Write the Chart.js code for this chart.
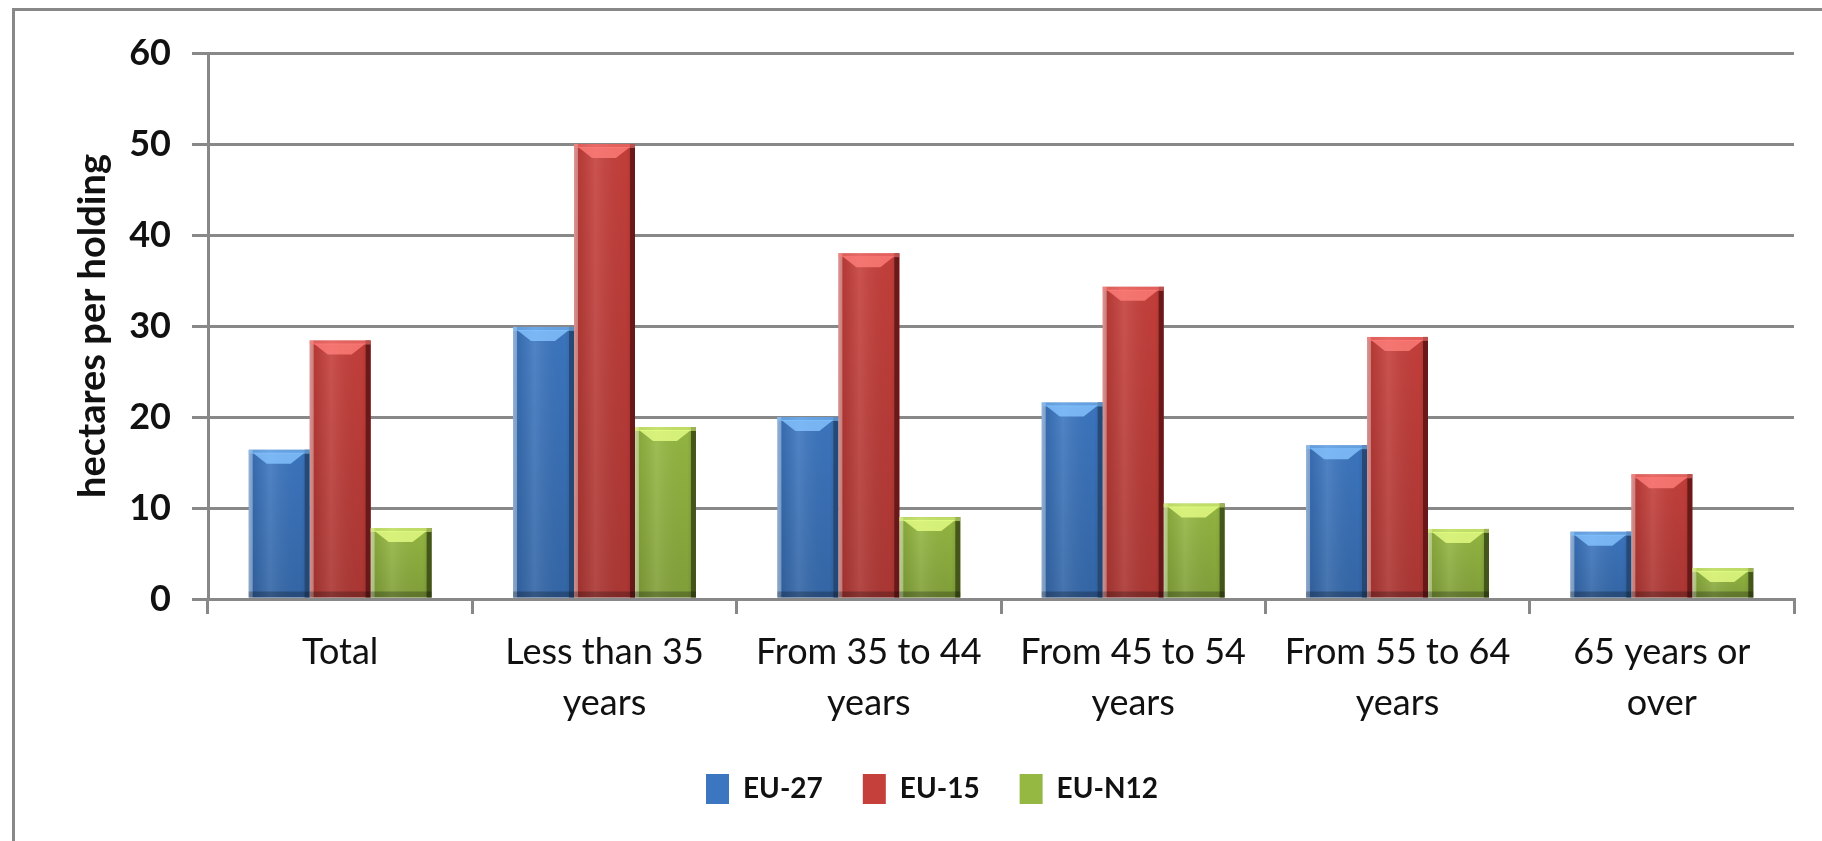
<!DOCTYPE html>
<html>
<head>
<meta charset="utf-8">
<script src="https://cdn.jsdelivr.net/npm/chart.js@4/dist/chart.umd.min.js"></script>
<style>
  html, body { margin: 0; padding: 0; background: #fff; }
  #wrap { position: relative; width: 1822px; height: 841px; overflow: hidden; background: #fff; }
  #frame { position: absolute; left: 12px; top: 8px; width: 1900px; height: 900px; border-left: 3px solid #888; border-top: 3px solid #888; box-sizing: border-box; pointer-events: none; }
  #c { position: absolute; left: 0; top: 0; }
</style>
</head>
<body>
<div id="wrap">
  <canvas id="c" width="1822" height="841"></canvas>
  <div id="frame"></div>
</div>
<script>
const categories = [["Total"], ["Less than 35", "years"], ["From 35 to 44", "years"], ["From 45 to 54", "years"], ["From 55 to 64", "years"], ["65 years or", "over"]];
const seriesNames = ["EU-27", "EU-15", "EU-N12"];
const eu27 = [16.4, 29.9, 20.0, 21.6, 16.9, 7.4];
const eu15 = [28.4, 50.0, 38.0, 34.3, 28.8, 13.7];
const euN12 = [7.8, 18.9, 9.0, 10.5, 7.7, 3.4];
const yTicks = [0, 10, 20, 30, 40, 50, 60];
const axisTitle = "hectares per holding";

const baseColors = ["#3C76C0", "#C53F3B", "#95B842"];
const topColors = ["#86C4FF", "#FF7E7A", "#E6FF86"];
const edgeColors = ["#23446E", "#5E1414", "#3A4A16"];

const bevelPlugin = {
  id: 'bevel',
  afterDatasetsDraw(chart) {
    const ctx = chart.ctx;
    chart.data.datasets.forEach((ds, di) => {
      const meta = chart.getDatasetMeta(di);
      meta.data.forEach(bar => {
        const p = bar.getProps(['x', 'y', 'base', 'width'], true);
        const l = p.x - p.width / 2, r = p.x + p.width / 2, t = p.y, b = p.base;
        const h = b - t;
        ctx.save();
        let g = ctx.createLinearGradient(l, 0, r, 0);
        g.addColorStop(0, 'rgba(255,255,255,0.18)');
        g.addColorStop(0.08, 'rgba(0,0,0,0.08)');
        g.addColorStop(0.35, 'rgba(255,255,255,0.10)');
        g.addColorStop(0.85, 'rgba(0,0,0,0.02)');
        g.addColorStop(1, 'rgba(0,0,0,0.15)');
        ctx.fillStyle = g;
        ctx.fillRect(l, t, r - l, h);
        g = ctx.createLinearGradient(0, t, 0, b);
        g.addColorStop(0, 'rgba(0,0,0,0)');
        g.addColorStop(1, 'rgba(0,0,0,0.12)');
        ctx.fillStyle = g;
        ctx.fillRect(l, t, r - l, h);
        ctx.fillStyle = edgeColors[di];
        ctx.globalAlpha = 0.85;
        ctx.fillRect(r - 5, t, 5, h);
        ctx.globalAlpha = 0.35;
        ctx.fillStyle = '#ffffff';
        ctx.fillRect(l, t, 4, h);
        const bv = Math.min(14, h / 2);
        ctx.globalAlpha = 0.55;
        ctx.fillStyle = topColors[di];
        ctx.fillRect(l, t, r - l, Math.min(4, h));
        ctx.globalAlpha = 0.8;
        ctx.beginPath();
        ctx.moveTo(l + 4, t + 3);
        ctx.lineTo(r - 5, t + 3);
        ctx.lineTo(r - 5 - bv, t + bv);
        ctx.lineTo(l + 4 + bv, t + bv);
        ctx.closePath();
        ctx.fill();
        ctx.globalAlpha = 0.25;
        ctx.fillStyle = '#000';
        ctx.fillRect(l, b - 6, r - l, 6);
        ctx.restore();
      });
    });
  }
};

const fontFamily = "Lato, 'Open Sans', sans-serif";

new Chart(document.getElementById('c'), {
  type: 'bar',
  data: {
    labels: categories,
    datasets: [
      { label: seriesNames[0], data: eu27, backgroundColor: baseColors[0] },
      { label: seriesNames[1], data: eu15, backgroundColor: baseColors[1] },
      { label: seriesNames[2], data: euN12, backgroundColor: baseColors[2] }
    ]
  },
  options: {
    responsive: false,
    animation: false,
    devicePixelRatio: 1,
    datasets: { bar: { categoryPercentage: 0.692, barPercentage: 1.0, borderWidth: 0 } },
    layout: { padding: { left: 70, right: 28, top: 53, bottom: 27 } },
    plugins: {
      tooltip: { enabled: false },
      legend: {
        position: 'bottom',
        labels: {
          boxWidth: 23, boxHeight: 30, padding: 40,
          color: '#111',
          font: { family: fontFamily, size: 28, weight: 'bold' }
        }
      }
    },
    scales: {
      x: {
        grid: { offset: true, drawOnChartArea: false, drawTicks: true, tickLength: 15, color: '#888', lineWidth: 3 },
        border: { display: true, color: '#888', width: 3 },
        ticks: { color: '#111', padding: 13, maxRotation: 0, autoSkip: false,
          font: { family: fontFamily, size: 36, lineHeight: 1.42 } },
        afterFit(s) { s.height = 135; }
      },
      y: {
        min: 0, max: 60,
        afterBuildTicks(s) { s.ticks = yTicks.map(v => ({ value: v })); },
        grid: { color: '#888', lineWidth: 3, tickLength: 16, drawTicks: true },
        border: { display: true, color: '#888', width: 3 },
        ticks: { color: '#111', padding: 21, font: { family: fontFamily, size: 36, weight: 'bold' } },
        title: { display: true, text: axisTitle, color: '#111', padding: { top: 0, bottom: 0 },
          font: { family: fontFamily, size: 38, weight: 'bold' } },
        afterFit(s) { s.width = 138; }
      }
    }
  },
  plugins: [bevelPlugin]
});
</script>
</body>
</html>
